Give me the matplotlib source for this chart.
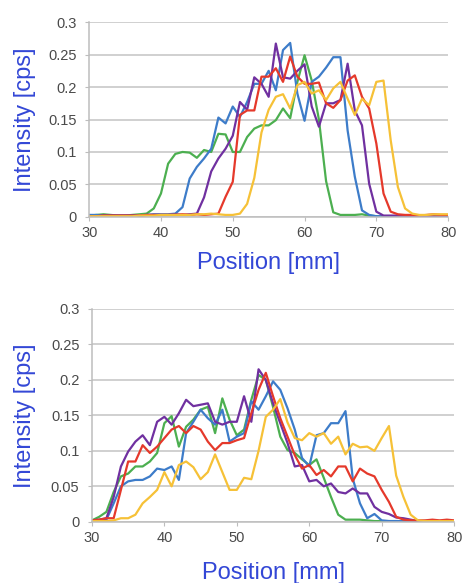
import numpy as np
import matplotlib as mpl
mpl.use('Agg')
import matplotlib.pyplot as plt

plt.rcParams['font.family'] = ['Liberation Sans', 'DejaVu Sans']

# positions in mm, 1 mm steps
pos = np.arange(30, 81)

# upper panel
top_green = [0.002, 0.003, 0.004, 0.003, 0.002, 0.002, 0.003, 0.004, 0.005, 0.013, 0.036, 0.082, 0.097, 0.1, 0.099,
             0.091, 0.103, 0.1, 0.128, 0.127, 0.1, 0.1, 0.123, 0.136, 0.141, 0.141, 0.149, 0.167, 0.152, 0.208,
             0.249, 0.21, 0.15, 0.055, 0.007, 0.003, 0.003, 0.003, 0.004, 0.002, 0.001, 0.001, 0.001, 0.001, 0.001,
             0.001, 0.001, 0.001, 0.001, 0.001, 0.001]
top_blue = [0.003, 0.003, 0.002, 0.002, 0.002, 0.002, 0.002, 0.002, 0.003, 0.004, 0.004, 0.004, 0.005, 0.015, 0.059,
            0.077, 0.09, 0.105, 0.153, 0.144, 0.17, 0.154, 0.177, 0.205, 0.205, 0.225, 0.195, 0.257, 0.268, 0.19,
            0.148, 0.208, 0.216, 0.23, 0.246, 0.246, 0.133, 0.062, 0.01, 0.003, 0.001, 0.001, 0.001, 0.001, 0.001,
            0.001, 0.001, 0.001, 0.001, 0.001, 0.001]
top_purple = [0.001, 0.001, 0.002, 0.002, 0.002, 0.002, 0.002, 0.002, 0.003, 0.003, 0.003, 0.003, 0.004, 0.003, 0.004,
              0.005, 0.03, 0.07, 0.09, 0.105, 0.125, 0.177, 0.165, 0.215, 0.205, 0.185, 0.267, 0.215, 0.213, 0.225,
              0.235, 0.17, 0.139, 0.175, 0.175, 0.18, 0.236, 0.164, 0.141, 0.051, 0.008, 0.002, 0.002, 0.002, 0.002,
              0.001, 0.001, 0.001, 0.001, 0.001, 0.001]
top_red = [0.001, 0.001, 0.002, 0.002, 0.002, 0.002, 0.002, 0.002, 0.003, 0.003, 0.003, 0.003, 0.003, 0.004, 0.003,
           0.004, 0.003, 0.004, 0.005, 0.031, 0.054, 0.157, 0.164, 0.164, 0.216, 0.216, 0.229, 0.208, 0.247, 0.216,
           0.205, 0.205, 0.207, 0.175, 0.168, 0.18, 0.21, 0.218, 0.185, 0.167, 0.113, 0.036, 0.008, 0.004, 0.003,
           0.003, 0.002, 0.003, 0.004, 0.003, 0.003]
top_yellow = [0.001, 0.001, 0.001, 0.001, 0.001, 0.001, 0.001, 0.002, 0.002, 0.002, 0.003, 0.003, 0.003, 0.003, 0.003,
              0.004, 0.004, 0.005, 0.004, 0.003, 0.003, 0.005, 0.02, 0.06, 0.13, 0.165, 0.185, 0.189, 0.167, 0.203,
              0.208, 0.19, 0.195, 0.18, 0.198, 0.208, 0.182, 0.157, 0.182, 0.172, 0.208, 0.21, 0.118, 0.046, 0.013,
              0.005, 0.003, 0.003, 0.004, 0.004, 0.004]

# lower panel
bot_green = [0.002, 0.007, 0.014, 0.042, 0.064, 0.068, 0.078, 0.078, 0.085, 0.097, 0.139, 0.149, 0.106, 0.134, 0.144,
             0.158, 0.162, 0.125, 0.174, 0.144, 0.122, 0.13, 0.172, 0.207, 0.2, 0.162, 0.12, 0.101, 0.097, 0.088,
             0.08, 0.088, 0.062, 0.035, 0.01, 0.003, 0.003, 0.003, 0.002, 0.001, 0.001, 0.001, 0.001, 0.001, 0.001,
             0.001, 0.001, 0.001, 0.001, 0.001, 0.001]
bot_blue = [0.002, 0.002, 0.003, 0.026, 0.05, 0.057, 0.059, 0.059, 0.064, 0.075, 0.073, 0.078, 0.059, 0.125, 0.141,
            0.158, 0.146, 0.137, 0.158, 0.113, 0.12, 0.125, 0.17, 0.158, 0.177, 0.198, 0.186, 0.16, 0.13, 0.09,
            0.078, 0.122, 0.125, 0.139, 0.139, 0.156, 0.061, 0.026, 0.005, 0.011, 0.002, 0.001, 0.001, 0.001, 0.001,
            0.001, 0.001, 0.001, 0.001, 0.001, 0.001]
bot_purple = [0.002, 0.003, 0.005, 0.035, 0.078, 0.099, 0.113, 0.122, 0.108, 0.141, 0.148, 0.137, 0.153, 0.172, 0.163,
              0.165, 0.167, 0.141, 0.137, 0.141, 0.141, 0.177, 0.141, 0.215, 0.2, 0.167, 0.139, 0.111, 0.078, 0.08,
              0.057, 0.059, 0.05, 0.054, 0.042, 0.04, 0.047, 0.04, 0.04, 0.021, 0.014, 0.011, 0.006, 0.005, 0.003,
              0.001, 0.001, 0.001, 0.001, 0.001, 0.001]
bot_red = [0.002, 0.003, 0.005, 0.005, 0.045, 0.085, 0.085, 0.108, 0.097, 0.106, 0.118, 0.13, 0.135, 0.125, 0.135,
           0.13, 0.113, 0.101, 0.111, 0.111, 0.115, 0.118, 0.153, 0.186, 0.21, 0.177, 0.146, 0.12, 0.094, 0.075,
           0.08, 0.066, 0.073, 0.064, 0.078, 0.078, 0.057, 0.075, 0.068, 0.064, 0.045, 0.028, 0.007, 0.003, 0.002,
           0.002, 0.002, 0.003, 0.002, 0.003, 0.002]
bot_yellow = [0.001, 0.001, 0.001, 0.002, 0.005, 0.005, 0.01, 0.026, 0.035, 0.045, 0.07, 0.05, 0.08, 0.085, 0.077,
              0.06, 0.07, 0.095, 0.07, 0.045, 0.045, 0.062, 0.06, 0.1, 0.148, 0.158, 0.173, 0.14, 0.118, 0.115,
              0.125, 0.12, 0.125, 0.11, 0.12, 0.095, 0.11, 0.105, 0.106, 0.1, 0.118, 0.135, 0.065, 0.035, 0.01,
              0.002, 0.001, 0.001, 0.001, 0.001, 0.001]

colors = {'green': '#4caf50', 'blue': '#3d7cc9', 'purple': '#7030a0', 'red': '#e5392b', 'yellow': '#f6c137'}
label_blue = '#3347d6'
yticks = [0, 0.05, 0.1, 0.15, 0.2, 0.25, 0.3]
ytick_labels = ['0', '0.05', '0.1', '0.15', '0.2', '0.25', '0.3']
xticks = [30, 40, 50, 60, 70, 80]

fig = plt.figure(figsize=(4.62, 5.83), dpi=100)
ax1 = fig.add_axes([0.193, 0.628, 0.777, 0.334])
ax2 = fig.add_axes([0.199, 0.105, 0.784, 0.365])

panels = [
    (ax1, [top_green, top_blue, top_purple, top_red, top_yellow], -0.148, -0.18),
    (ax2, [bot_green, bot_blue, bot_purple, bot_red, bot_yellow], -0.155, -0.188),
]

for ax, series, ylx, xly in panels:
    for s, c in zip(series, ['green', 'blue', 'purple', 'red', 'yellow']):
        ax.plot(pos, s, color=colors[c], lw=1.6)
    ax.set_xlim(30, 80)
    ax.set_ylim(0, 0.3)
    ax.set_yticks(yticks)
    ax.set_yticklabels(ytick_labels)
    ax.set_xticks(xticks)
    ax.grid(axis='y', color='#c4c4c4', lw=1.1)
    ax.set_axisbelow(True)
    for side in ['top', 'right']:
        ax.spines[side].set_visible(False)
    for side in ['left', 'bottom']:
        ax.spines[side].set_color('#bdbdbd')
        ax.spines[side].set_linewidth(1.1)
    ax.tick_params(axis='both', colors='#bdbdbd', labelcolor='#4a4a4a', labelsize=10.5, length=3)
    ax.tick_params(axis='y', pad=6)
    ax.set_ylabel('Intensity [cps]', color=label_blue, fontsize=17)
    ax.set_xlabel('Position [mm]', color=label_blue, fontsize=17)
    ax.yaxis.set_label_coords(ylx, 0.5)
    ax.xaxis.set_label_coords(0.5, xly)

plt.savefig('out.png', dpi=100)
